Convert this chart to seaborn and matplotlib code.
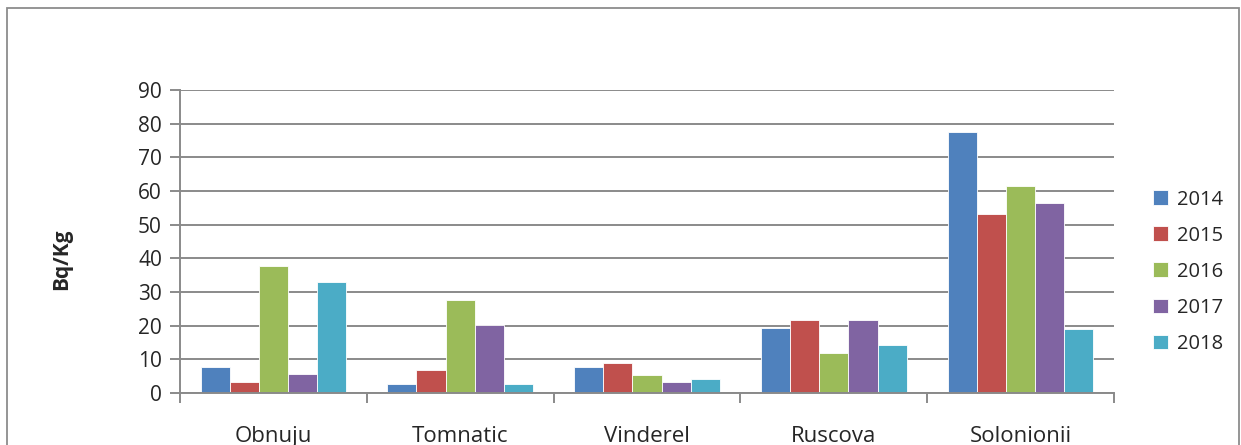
import pandas as pd
import seaborn as sns
import matplotlib.pyplot as plt
from matplotlib.patches import Rectangle

# Données
locations = ['Obnuju', 'Tomnatic', 'Vinderel', 'Ruscova', 'Solonionii']
years = ['2014', '2015', '2016', '2017', '2018']
v2014 = [7.8, 2.7, 7.6, 19.2, 77.6]
v2015 = [3.4, 6.8, 8.9, 21.6, 53.2]
v2016 = [37.8, 27.5, 5.2, 11.8, 61.6]
v2017 = [5.6, 20.1, 3.3, 21.7, 56.5]
v2018 = [32.9, 2.7, 4.3, 14.2, 18.9]
colors = ['#4F81BD', '#C0504D', '#9BBB59', '#8064A2', '#4BACC6']

rows = []
for year, vals in zip(years, [v2014, v2015, v2016, v2017, v2018]):
    for loc, v in zip(locations, vals):
        rows.append({'Loc': loc, 'An': year, 'Val': v})
df = pd.DataFrame(rows)

sns.set_style('white')
plt.rcParams['font.family'] = ['Open Sans', 'DejaVu Sans']

fig = plt.figure(figsize=(12.41, 4.45), dpi=100)
ax = fig.add_axes([180 / 1241, 1 - 393 / 445, 934 / 1241, 303 / 445])

sns.barplot(data=df, x='Loc', y='Val', hue='An', palette=colors, order=locations,
            hue_order=years, width=0.78, saturation=1, edgecolor='white',
            linewidth=0.6, ax=ax)

grid_col = '#8a8a8a'
ax.set_ylim(0, 90)
ax.set_xlim(-0.5, 4.5)
ax.set_yticks(range(0, 91, 10))
ax.yaxis.grid(True, color=grid_col, linewidth=1.4)
ax.set_axisbelow(True)
for s in ['top', 'right']:
    ax.spines[s].set_visible(False)
for s in ['left', 'bottom']:
    ax.spines[s].set_color(grid_col)
    ax.spines[s].set_linewidth(1.4)

ax.tick_params(axis='y', left=True, length=7, width=1.4, color=grid_col,
               labelsize=15, pad=6)
# graduations entre catégories, libellés au centre
ax.set_xticks([-0.5, 0.5, 1.5, 2.5, 3.5, 4.5])
ax.set_xticklabels([''] * 6)
ax.tick_params(axis='x', which='major', bottom=True, length=7, width=1.4, color=grid_col)
ax.set_xticks(range(5), minor=True)
ax.set_xticklabels(locations, minor=True)
ax.tick_params(axis='x', which='minor', bottom=True, length=0, labelsize=16, pad=24)

ax.set_xlabel('')
ax.set_ylabel('Bq/Kg', fontsize=15, fontweight='bold')
ax.yaxis.set_label_coords(-0.115, 0.44)

handles, labels = ax.get_legend_handles_labels()
ax.legend(handles, labels, loc='center left', bbox_to_anchor=(1.031, 0.40),
          frameon=False, fontsize=14.5, handlelength=0.75, handleheight=0.75,
          handletextpad=0.45, labelspacing=0.8, borderpad=0)

fig.patches.append(Rectangle((7 / 1241, -0.1), 1232 / 1241, 1.1 - 8 / 445,
                             transform=fig.transFigure, fill=False,
                             edgecolor='#8c8c8c', linewidth=1.3))

fig.savefig('out.png', dpi=100)
